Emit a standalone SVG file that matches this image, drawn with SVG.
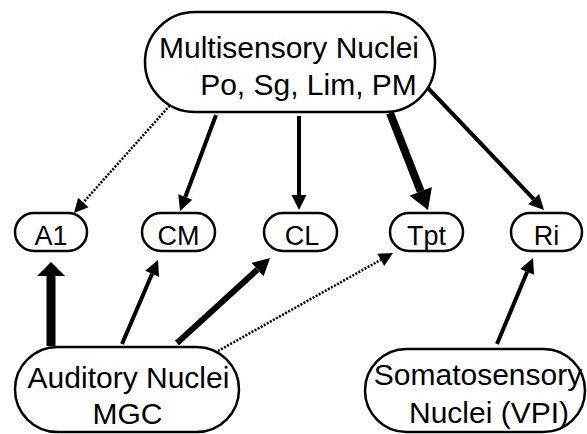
<svg xmlns="http://www.w3.org/2000/svg" width="587" height="434" viewBox="0 0 587 434">
<style>
.n{fill:#fff;stroke:#000;stroke-width:2.5}
.t{font-family:"Liberation Sans",Arial,sans-serif;fill:#000;text-anchor:middle}
.big{font-size:30px}
.sm{font-size:27px}
.c{fill:none;stroke:#000;stroke-linecap:butt}
.dot{stroke-width:2.5;stroke-dasharray:2,1.5}
</style>
<defs>
<marker id="h15" markerUnits="userSpaceOnUse" orient="auto" refX="0" refY="0" markerWidth="20" markerHeight="20" overflow="visible"><path d="M0,-7.5 L15,0 L0,7.5 z" fill="#000"/></marker>
<marker id="hdot" markerUnits="userSpaceOnUse" orient="auto" refX="0" refY="0" markerWidth="20" markerHeight="20" overflow="visible"><path d="M0,-7 L14,0 L0,7 z" fill="#000"/></marker>
<marker id="hcl" markerUnits="userSpaceOnUse" orient="auto" refX="0" refY="0" markerWidth="20" markerHeight="20" overflow="visible"><path d="M0,-9 L17,0 L0,9 z" fill="#000"/></marker>
<marker id="htpt" markerUnits="userSpaceOnUse" orient="auto" refX="0" refY="0" markerWidth="30" markerHeight="30" overflow="visible"><path d="M0,-12 L20,0 L0,12 z" fill="#000"/></marker>
<marker id="ha1" markerUnits="userSpaceOnUse" orient="auto" refX="0" refY="0" markerWidth="30" markerHeight="30" overflow="visible"><path d="M0,-14 L14,0 L0,14 z" fill="#000"/></marker>
</defs>
<g id="connectors">
<path class="c dot" d="M172,103 L83.3,202.5" marker-end="url(#hdot)"/>
<path class="c" stroke-width="4" d="M216,115 L185.3,197" marker-end="url(#h15)"/>
<path class="c" stroke-width="4" d="M299,116 L299,195" marker-end="url(#h15)"/>
<path class="c" stroke-width="8" d="M390,113 L420.7,191.4" marker-end="url(#htpt)"/>
<path class="c" stroke-width="4" d="M427,87 L533.7,199.1" marker-end="url(#h15)"/>
<path class="c" stroke-width="9" d="M51,346 L51,276" marker-end="url(#ha1)"/>
<path class="c" stroke-width="4" d="M122,344 L152.1,273.8" marker-end="url(#h15)"/>
<path class="c" stroke-width="6" d="M177,343 L257.5,269.5" marker-end="url(#hcl)"/>
<path class="c dot" d="M218,351 L380.8,259.8" marker-end="url(#hdot)"/>
<path class="c" stroke-width="4" d="M497,344 L527.2,271.8" marker-end="url(#h15)"/>
</g>
<g id="multisensory">
<rect class="n" x="145" y="12" width="290" height="100" rx="50" ry="50"/>
<text class="t big" x="289" y="58">Multisensory Nuclei</text>
<text class="t big" x="308.5" y="95">Po, Sg, Lim, PM</text>
</g>
<g id="A1">
<rect class="n" x="15" y="213" width="72" height="38" rx="19" ry="19"/>
<text class="t sm" x="51" y="245">A1</text>
</g>
<g id="CM">
<rect class="n" x="142" y="213" width="73" height="38" rx="19" ry="19"/>
<text class="t sm" x="178.5" y="245">CM</text>
</g>
<g id="CL">
<rect class="n" x="264" y="213" width="73" height="38" rx="19" ry="19"/>
<text class="t sm" x="302" y="245">CL</text>
</g>
<g id="Tpt">
<rect class="n" x="390" y="213" width="73" height="38" rx="19" ry="19"/>
<text class="t sm" x="426.5" y="245">Tpt</text>
</g>
<g id="Ri">
<rect class="n" x="511" y="213" width="71" height="38" rx="19" ry="19"/>
<text class="t sm" x="546.5" y="245">Ri</text>
</g>
<g id="auditory">
<rect class="n" x="15" y="347" width="224" height="85" rx="42.5" ry="42.5"/>
<text class="t big" x="128.5" y="388">Auditory Nuclei</text>
<text class="t big" x="127.5" y="424">MGC</text>
</g>
<g id="somatosensory">
<rect class="n" x="365" y="349" width="220" height="83" rx="41.5" ry="41.5"/>
<text class="t big" x="478" y="385">Somatosensory</text>
<text class="t big" x="489" y="423">Nuclei (VPI)</text>
</g>
</svg>
